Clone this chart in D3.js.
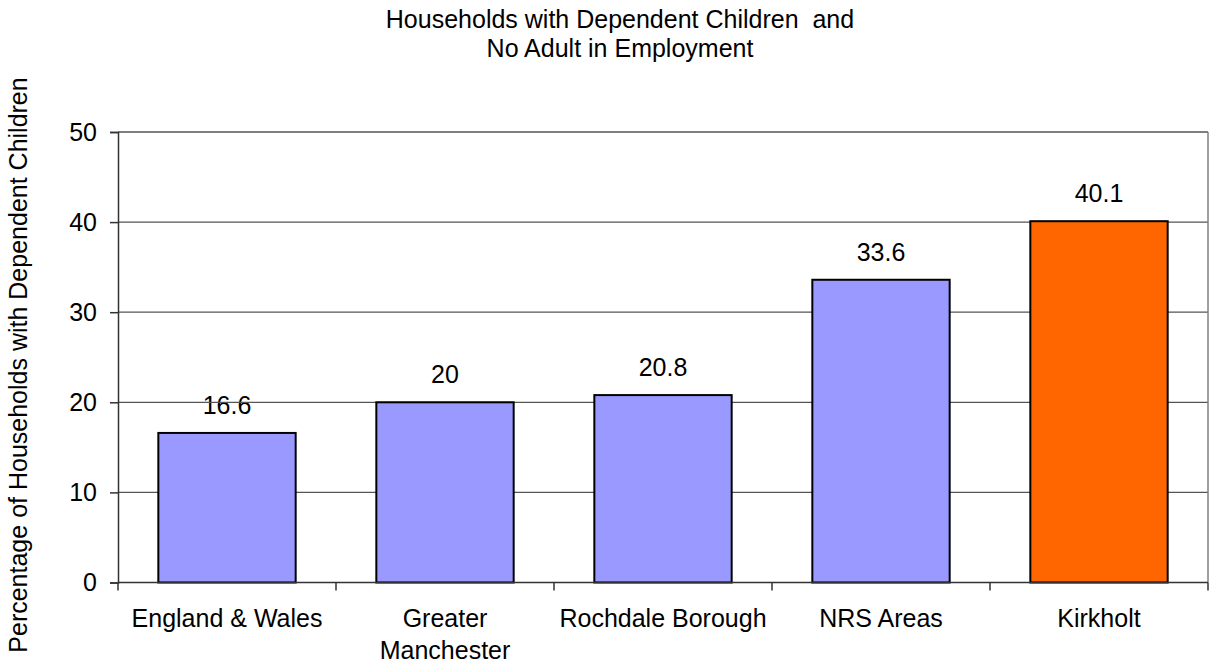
<!DOCTYPE html>
<html><head><meta charset="utf-8">
<script src="https://cdn.jsdelivr.net/npm/d3@7"></script>
<style>body{margin:0;background:#fff}svg{display:block;font-family:"Liberation Sans",Arial,sans-serif}text{white-space:pre}</style>
</head><body><svg id="c" width="1212" height="666"></svg>
<script>
const categories = [["England & Wales"],["Greater","Manchester"],["Rochdale Borough"],["NRS Areas"],["Kirkholt"]];
const values = [16.6, 20, 20.8, 33.6, 40.1];
const valueLabels = ["16.6","20","20.8","33.6","40.1"];
const barColors = ["#9999FF","#9999FF","#9999FF","#9999FF","#FF6600"];
const yTicks = [0,10,20,30,40,50];
const titleLines = ["Households with Dependent Children  and","No Adult in Employment"];
const yTitle = "Percentage of Households with Dependent Children";

const FS = 25;
const svg = d3.select("#c");
const L=118, R=1208, T=132, B=582.5;
const x = d3.scaleBand().domain(d3.range(values.length)).range([L,R]).paddingInner(0.37).paddingOuter(0.185);
const xb = d3.scaleBand().domain(d3.range(values.length)).range([L,R]);
const y = d3.scaleLinear().domain([0,50]).range([B,T]);

// value labels (under gridlines, as in the reference)
svg.append("g").selectAll("text").data(values).join("text")
  .attr("x",(d,i)=>x(i)+x.bandwidth()/2).attr("y",d=>y(d)-19)
  .attr("text-anchor","middle").attr("font-size",FS).attr("fill","#000")
  .text((d,i)=>valueLabels[i]);

// gridlines
svg.append("g").selectAll("line").data(yTicks.filter(d=>d>0)).join("line")
  .attr("x1",L).attr("x2",R).attr("y1",d=>y(d)).attr("y2",d=>y(d))
  .attr("stroke","#555").attr("stroke-width",1.3);
svg.append("line").attr("x1",R).attr("x2",R).attr("y1",T).attr("y2",B).attr("stroke","#808080").attr("stroke-width",1.5);

// bars
svg.append("g").selectAll("rect").data(values).join("rect")
  .attr("x",(d,i)=>x(i)).attr("width",x.bandwidth())
  .attr("y",d=>y(d)).attr("height",d=>B-y(d))
  .attr("fill",(d,i)=>barColors[i]).attr("stroke","#000").attr("stroke-width",2);

// y axis
const ya = svg.append("g").attr("transform",`translate(${L},0)`)
  .call(d3.axisLeft(y).tickValues(yTicks).tickSize(8).tickPadding(13));
ya.select(".domain").attr("stroke","#333").attr("stroke-width",1.5);
ya.selectAll(".tick line").attr("stroke","#333").attr("stroke-width",1.5);
ya.selectAll(".tick text").attr("font-size",FS).attr("fill","#000").attr("font-family","Liberation Sans, Arial, sans-serif");

// x axis
const xa = svg.append("g").attr("transform",`translate(0,${B})`);
xa.append("line").attr("x1",L).attr("x2",R).attr("stroke","#333").attr("stroke-width",1.5);
xa.selectAll("line.t").data(d3.range(values.length+1)).join("line").attr("class","t")
  .attr("x1",i=>i<values.length?xb(i):R).attr("x2",i=>i<values.length?xb(i):R)
  .attr("y1",0).attr("y2",8).attr("stroke","#333").attr("stroke-width",1.5);
const cl = xa.selectAll("text").data(categories).join("text")
  .attr("text-anchor","middle").attr("font-size",FS).attr("fill","#000")
  .attr("transform",(d,i)=>`translate(${xb(i)+xb.bandwidth()/2},44.5)`);
cl.selectAll("tspan").data(d=>d).join("tspan").attr("x",0).attr("dy",(d,j)=>j?31.5:0).text(d=>d);

// title
svg.append("text").attr("text-anchor","middle").attr("font-size",FS).attr("fill","#000")
  .selectAll("tspan").data(titleLines).join("tspan").attr("x",620).attr("y",(d,i)=>28+i*29).text(d=>d);

// y title
svg.append("text").attr("text-anchor","middle").attr("font-size",FS).attr("fill","#000")
  .attr("transform","translate(27,365) rotate(-90)").text(yTitle);
</script></body></html>
